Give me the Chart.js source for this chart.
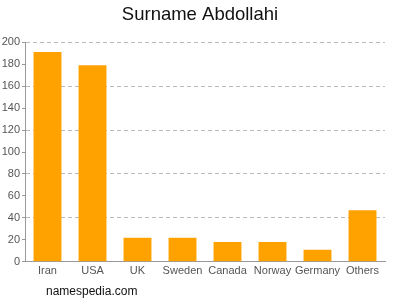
<!DOCTYPE html>
<html>
<head>
<meta charset="utf-8">
<script src="https://cdn.jsdelivr.net/npm/chart.js@4"></script>
<style>
  html, body { margin: 0; padding: 0; background: #fff; }
  #wrap { width: 400px; height: 300px; position: relative; }
</style>
</head>
<body>
<div id="wrap"><canvas id="grafico" width="400" height="300"></canvas></div>
<script>
const paises = ['Iran', 'USA', 'UK', 'Sweden', 'Canada', 'Norway', 'Germany', 'Others'];
const personas = [191, 179, 22, 22, 18, 18, 11, 47];
const ticksY = [0, 20, 40, 60, 80, 100, 120, 140, 160, 180, 200];

// texto del sitio abajo a la izquierda
const marcaAgua = {
    id: 'marcaAgua',
    afterDraw(chart) {
        const ctx = chart.ctx;
        ctx.save();
        ctx.font = '12px "Liberation Sans", Arial, sans-serif';
        ctx.fillStyle = '#111';
        ctx.textBaseline = 'middle';
        ctx.fillText('namespedia.com', 46, 292);
        ctx.restore();
    }
};

new Chart(document.getElementById('grafico').getContext('2d'), {
    type: 'bar',
    data: {
        labels: paises,
        datasets: [{
            data: personas,
            backgroundColor: '#ffa200',
            borderWidth: 0,
            categoryPercentage: 0.62,
            barPercentage: 1
        }]
    },
    options: {
        responsive: false,
        animation: false,
        layout: { padding: { left: 0, right: 0, top: 0, bottom: 19 } },
        plugins: {
            legend: { display: false },
            tooltip: { enabled: false },
            title: {
                display: true,
                text: 'Surname Abdollahi',
                color: '#111',
                font: { family: '"Liberation Sans", Arial, sans-serif', size: 18.5, weight: 'normal' },
                padding: { top: 4, bottom: 16 }
            }
        },
        scales: {
            x: {
                grid: { display: false, drawTicks: false },
                border: { display: true, color: '#999' },
                ticks: {
                    color: '#555',
                    font: { family: '"Liberation Sans", Arial, sans-serif', size: 11 },
                    padding: 3,
                    maxRotation: 0,
                    minRotation: 0,
                    autoSkip: false
                }
            },
            y: {
                min: 0,
                max: 200,
                afterBuildTicks: (scale) => { scale.ticks = ticksY.map(v => ({ value: v })); },
                grid: {
                    color: (c) => (c.tick && c.tick.value % 40 === 0 && c.tick.value > 0) ? '#bbb' : 'rgba(0,0,0,0)',
                    tickColor: '#999',
                    tickLength: 3,
                    drawTicks: true
                },
                border: { display: true, color: '#999', dash: [4, 3] },
                ticks: { color: '#555', font: { family: '"Liberation Sans", Arial, sans-serif', size: 11 }, padding: 2 },
                afterFit: (scale) => { scale.width = 25; }
            },
            // eje vacío a la derecha, sólo deja margen
            margen: {
                position: 'right',
                min: 0,
                max: 200,
                grid: { drawOnChartArea: false, drawTicks: false },
                border: { display: false },
                ticks: { display: false },
                afterFit: (scale) => { scale.width = 15; }
            }
        }
    },
    plugins: [marcaAgua]
});
</script>
</body>
</html>
